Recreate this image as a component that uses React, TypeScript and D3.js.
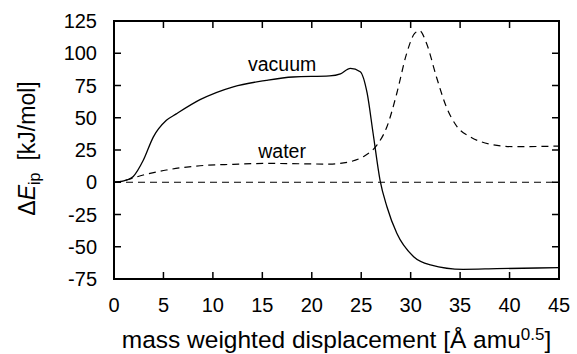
import { useEffect, useRef } from 'react';
import * as d3 from 'd3';

// displacement values
const vacuumX = [0, 0.6, 1.3, 1.95, 2.96, 3.97, 5.3, 6.3, 8.7, 12.06, 15.4, 18.1, 21.8, 22.9, 23.9, 24.9, 25.6, 26.2, 26.9, 27.6, 28.6, 30.3, 32.0, 35.3, 38.7, 45];
const vacuumY = [0, 0.4, 1.8, 4.5, 17, 35, 48, 53, 64, 74, 79, 81.6, 82.4, 84, 88.3, 85.7, 69, 38, 1.7, -19, -39.6, -57.7, -64, -67.5, -67, -66.2];

const waterX = [0, 0.6, 2.96, 5.3, 8.7, 12.06, 15.4, 21.8, 23.9, 25.2, 26.6, 27.6, 28.6, 29.6, 30.4, 30.9, 31.6, 32.6, 33.6, 34.7, 36.0, 38.0, 40.4, 45];
const waterY = [0, 0.6, 5.6, 9.5, 12.8, 13.9, 14.6, 14.1, 16, 19.8, 28.9, 43, 69, 100, 115.4, 117.5, 107.7, 81.8, 58.6, 43, 35.3, 29.6, 27.6, 28];

const xTicks = [0, 5, 10, 15, 20, 25, 30, 35, 40, 45];
const yTicks = [-75, -50, -25, 0, 25, 50, 75, 100, 125];

const FONT = '"Liberation Sans", Arial, Helvetica, sans-serif';

function EnergyPlot() {
  const svgRef = useRef<SVGSVGElement>(null);

  useEffect(() => {
    const margin = { top: 21, right: 18, bottom: 75, left: 114 };
    const totalW = 577;
    const totalH = 354;
    const width = totalW - margin.left - margin.right;
    const height = totalH - margin.top - margin.bottom;

    d3.select(svgRef.current).selectAll('*').remove();

    const root = d3.select(svgRef.current)
      .attr('width', totalW)
      .attr('height', totalH)
      .style('font-family', FONT);

    const svg = root.append('g')
      .attr('transform', `translate(${margin.left},${margin.top})`);

    const xScale = d3.scaleLinear().domain([0, 45]).range([0, width]);
    const yScale = d3.scaleLinear().domain([-75, 125]).range([height, 0]);

    const tickLen = 7;

    // mirrored inward ticks
    xTicks.forEach(t => {
      if (t === 0 || t === 45) return;
      svg.append('line')
        .attr('x1', xScale(t)).attr('x2', xScale(t))
        .attr('y1', height).attr('y2', height - tickLen)
        .attr('stroke', '#000').attr('stroke-width', 1.5);
      svg.append('line')
        .attr('x1', xScale(t)).attr('x2', xScale(t))
        .attr('y1', 0).attr('y2', tickLen)
        .attr('stroke', '#000').attr('stroke-width', 1.5);
    });
    yTicks.forEach(t => {
      if (t === -75 || t === 125) return;
      svg.append('line')
        .attr('x1', 0).attr('x2', tickLen)
        .attr('y1', yScale(t)).attr('y2', yScale(t))
        .attr('stroke', '#000').attr('stroke-width', 1.5);
      svg.append('line')
        .attr('x1', width).attr('x2', width - tickLen)
        .attr('y1', yScale(t)).attr('y2', yScale(t))
        .attr('stroke', '#000').attr('stroke-width', 1.5);
    });

    // tick labels
    svg.selectAll('.xt')
      .data(xTicks)
      .enter().append('text')
      .attr('x', d => xScale(d))
      .attr('y', height + 33)
      .attr('text-anchor', 'middle')
      .style('font-size', '20px')
      .text(d => d);

    svg.selectAll('.yt')
      .data(yTicks)
      .enter().append('text')
      .attr('x', -17)
      .attr('y', d => yScale(d) + 7)
      .attr('text-anchor', 'end')
      .style('font-size', '20px')
      .text(d => d);

    // zero line
    svg.append('line')
      .attr('x1', xScale(0)).attr('x2', xScale(45))
      .attr('y1', yScale(0)).attr('y2', yScale(0))
      .attr('stroke', '#000').attr('stroke-width', 1)
      .attr('stroke-dasharray', '7,5');

    const line = d3.line<[number, number]>()
      .x(d => xScale(d[0]))
      .y(d => yScale(d[1]))
      .curve(d3.curveMonotoneX);

    const vacuum = vacuumX.map((x, i) => [x, vacuumY[i]] as [number, number]);
    const water = waterX.map((x, i) => [x, waterY[i]] as [number, number]);

    svg.append('path')
      .datum(water)
      .attr('fill', 'none')
      .attr('stroke', '#000')
      .attr('stroke-width', 1.2)
      .attr('stroke-dasharray', '7,5')
      .attr('d', line);

    svg.append('path')
      .datum(vacuum)
      .attr('fill', 'none')
      .attr('stroke', '#000')
      .attr('stroke-width', 1.3)
      .attr('d', line);

    // frame
    svg.append('rect')
      .attr('x', 0).attr('y', 0)
      .attr('width', width).attr('height', height)
      .attr('fill', 'none')
      .attr('stroke', '#000')
      .attr('stroke-width', 2);

    // curve labels
    svg.append('text')
      .attr('x', xScale(17)).attr('y', yScale(86.5))
      .attr('text-anchor', 'middle')
      .style('font-size', '19.5px')
      .text('vacuum');

    svg.append('text')
      .attr('x', xScale(17)).attr('y', yScale(19))
      .attr('text-anchor', 'middle')
      .style('font-size', '19.5px')
      .text('water');

    // x axis label
    const xl = root.append('text')
      .attr('x', 336.5)
      .attr('y', 348)
      .attr('text-anchor', 'middle')
      .style('font-size', '24.5px');
    xl.append('tspan').text('mass weighted displacement [Å amu');
    xl.append('tspan').attr('dy', -8).style('font-size', '17px').text('0.5');
    xl.append('tspan').attr('dy', 8).text(']');

    // y axis label
    const yl = root.append('text')
      .attr('transform', `translate(35,148.5) rotate(-90)`)
      .attr('text-anchor', 'middle')
      .style('font-size', '23px');
    yl.append('tspan').text('Δ');
    yl.append('tspan').style('font-style', 'italic').text('E');
    yl.append('tspan').attr('dy', 5).style('font-size', '16px').text('ip');
    yl.append('tspan').attr('dy', -5).attr('dx', 12).text('[kJ/mol]');
  }, []);

  return <svg ref={svgRef} style={{ display: 'block' }}></svg>;
}

export default function App() {
  return (
    <div style={{ position: 'fixed', left: 0, top: 0, width: 577, height: 354, background: '#fff' }}>
      <EnergyPlot />
    </div>
  );
}
